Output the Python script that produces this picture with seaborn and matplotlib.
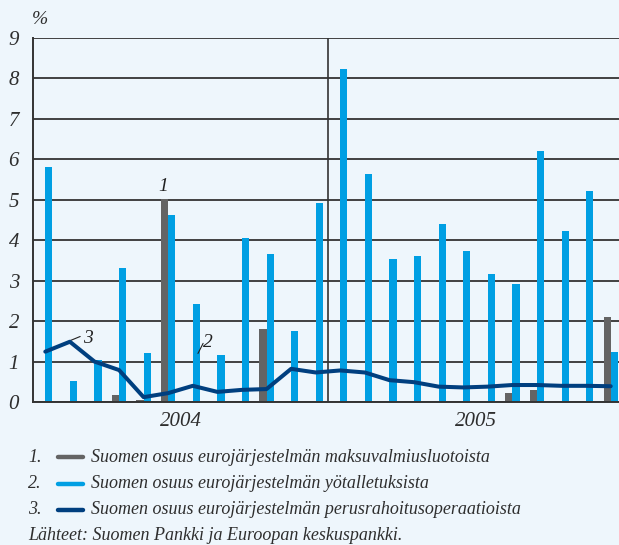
import numpy as np
import pandas as pd
import matplotlib
matplotlib.use("Agg")
import matplotlib.pyplot as plt
import seaborn as sns

# ---- data ----
months = [f"{y}-{m:02d}" for y in (2004, 2005) for m in range(1, 13)]
years = ["2004", "2005"]
gray_vals = [0, 0, 0, 0.17, 0.05, 5.02, 0, 0.02, 0, 1.81, 0, 0,
             0.02, 0, 0, 0, 0, 0, 0, 0.23, 0.30, 0, 0, 2.10]
blue_vals = [5.82, 0.52, 1.04, 3.32, 1.20, 4.63, 2.43, 1.16, 4.06, 3.66, 1.76, 4.93,
             8.24, 5.64, 3.54, 3.61, 4.41, 3.74, 3.17, 2.92, 6.21, 4.23, 5.22, 1.24]
line_vals = [1.245, 1.49, 1.00, 0.79, 0.12, 0.22, 0.40, 0.25, 0.30, 0.32, 0.82, 0.73,
             0.78, 0.73, 0.54, 0.49, 0.38, 0.36, 0.38, 0.42, 0.42, 0.40, 0.40, 0.39]
series_labels = ["Suomen osuus eurojärjestelmän maksuvalmiusluotoista",
                 "Suomen osuus eurojärjestelmän yötalletuksista",
                 "Suomen osuus eurojärjestelmän perusrahoitusoperaatioista"]
source_text = "Lähteet: Suomen Pankki ja Euroopan keskuspankki."
yticks = list(range(0, 10))

BG = "#EEF6FC"
GRAY = "#646464"
BLUE = "#009FE3"
NAVY = "#003F7F"
GRID = "#333333"
TXT = "#2e2e2e"

sns.set_style("white", rc={"axes.facecolor": BG, "figure.facecolor": BG})
plt.rcParams["font.family"] = ["Liberation Serif", "DejaVu Serif"]

fig = plt.figure(figsize=(6.19, 5.45), dpi=100)
W, H = 619, 545
ax = fig.add_axes([33 / W, (H - 402) / H, 590 / W, 364 / H])

df = pd.DataFrame({
    "month": months * 2,
    "value": gray_vals + blue_vals,
    "series": ["1"] * 24 + ["2"] * 24,
})
sns.barplot(data=df, x="month", y="value", hue="series", order=months,
            palette={"1": GRAY, "2": BLUE}, width=0.58, dodge=True,
            saturation=1, legend=False, ax=ax, linewidth=0)
sns.lineplot(x=np.arange(24), y=line_vals, color=NAVY, lw=2.9, ax=ax,
             solid_joinstyle="round", solid_capstyle="round", zorder=5)

ax.set_xlim(-0.5, 23.5)
ax.set_ylim(0, 9)
ax.set_yticks(yticks)
ax.set_yticklabels([str(t) for t in yticks], fontstyle="italic", fontsize=15, color=TXT)
ax.set_xticks([])
ax.set_xlabel("")
ax.set_ylabel("")
ax.tick_params(axis="y", length=0, pad=10)
ax.set_axisbelow(True)
ax.yaxis.grid(True, color=GRID, lw=1.3)
for s in ["top", "right"]:
    ax.spines[s].set_visible(False)
for s in ["left", "bottom"]:
    ax.spines[s].set_color(GRID)
    ax.spines[s].set_linewidth(1.4)
ax.axvline(11.5, color=GRID, lw=1.2, zorder=1)

# year labels
for i, y in enumerate(years):
    ax.text(5.5 + 12 * i, -0.47, y, ha="center", va="center", fontsize=15,
            fontstyle="italic", color=TXT)

# annotations
ax.text(4.78, 5.32, "1", ha="center", va="center", fontsize=14, fontstyle="italic", color="#222222")
ax.text(1.72, 1.57, "3", ha="center", va="center", fontsize=14, fontstyle="italic", color="#222222")
ax.plot([0.98, 1.42], [1.51, 1.62], color="#222222", lw=0.8)
ax.text(6.6, 1.47, "2", ha="center", va="center", fontsize=14, fontstyle="italic", color="#222222")
ax.plot([6.21, 6.42], [1.20, 1.45], color="#222222", lw=0.8)

fig.text(40 / W, 1 - 20 / H, "%", ha="center", va="center", fontsize=14,
         fontstyle="italic", color=TXT)

# legend rows
row_y = [457, 484, 510]
cols = [GRAY, BLUE, NAVY]
for i, (lab, c) in enumerate(zip(series_labels, cols)):
    yy = 1 - row_y[i] / H
    fig.text(28 / W, yy, f"{i + 1}.", ha="left", va="center", fontsize=13,
             fontstyle="italic", color=TXT)
    fig.add_artist(plt.Line2D([58 / W, 83 / W], [yy, yy], color=c, lw=3.2,
                              solid_capstyle="round", transform=fig.transFigure))
    fig.text(91 / W, yy, lab, ha="left", va="center", fontsize=13,
             fontstyle="italic", color=TXT)
fig.text(28 / W, 1 - 535 / H, source_text, ha="left", va="center", fontsize=13,
         fontstyle="italic", color=TXT)

fig.savefig("out.png", dpi=100, facecolor=BG)
